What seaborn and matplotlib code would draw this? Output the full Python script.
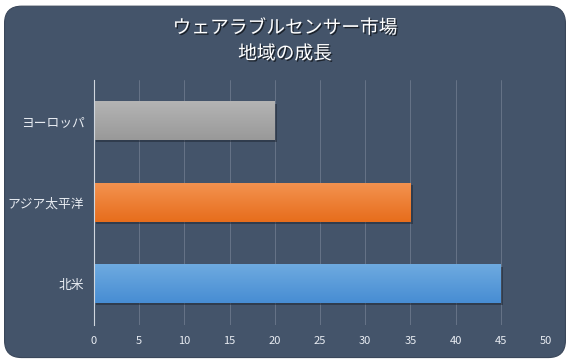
import numpy as np
import pandas as pd
import matplotlib
matplotlib.use('Agg')
import matplotlib.pyplot as plt
import matplotlib.patheffects as pe
from matplotlib.patches import FancyBboxPatch
from matplotlib.colors import LinearSegmentedColormap
import seaborn as sns

regions = ['ヨーロッパ', 'アジア太平洋', '北米']
growth = [20, 35, 45]
top_colors = ['#b4b4b4', '#f3924f', '#6eaae0']
bottom_colors = ['#999999', '#e76d1c', '#478dd3']
xticks = [0, 5, 10, 15, 20, 25, 30, 35, 40, 45, 50]

sns.set_style('white')
plt.rcParams['font.family'] = ['Noto Sans CJK JP', 'DejaVu Sans']

bg = '#44546a'
fig = plt.figure(figsize=(5.7, 3.63), dpi=100)
fig.patch.set_facecolor('white')
panel = FancyBboxPatch((0.008, 0.015), 0.984, 0.968, boxstyle='round,pad=0,rounding_size=0.03',
                       transform=fig.transFigure, facecolor=bg, edgecolor='#3a475a', lw=0.8,
                       mutation_aspect=570 / 363, zorder=-10)
fig.patches.append(panel)

ax = fig.add_axes([0.165, 0.105, 0.793, 0.675])
ax.set_facecolor(bg)

df = pd.DataFrame({'region': regions, 'growth': growth})
sns.barplot(data=df, x='growth', y='region', ax=ax, width=0.47, color='#888888',
            saturation=1, linewidth=0)

ax.set_xticks(xticks)
ax.set_xticklabels([str(t) for t in xticks], color='#e8ecf2', fontsize=8)
ax.tick_params(axis='y', colors='#e8ecf2', labelsize=9.2, length=0, pad=7)
ax.tick_params(axis='x', length=0, pad=8)
ax.set_xlabel('')
ax.set_ylabel('')
ax.grid(axis='x', color='#6c798c', lw=0.6)
ax.set_axisbelow(True)
for s in ['top', 'right', 'bottom']:
    ax.spines[s].set_visible(False)
ax.spines['left'].set_color('#d0d6de')
ax.spines['left'].set_linewidth(0.8)

# gradient fill over each bar, with a soft drop shadow
for patch, c1, c2 in zip(ax.patches, top_colors, bottom_colors):
    patch.set_facecolor(c2)
    patch.set_edgecolor('none')
    patch.set_path_effects([pe.SimplePatchShadow(offset=(1.5, -1.5), shadow_rgbFace='#1e2632', alpha=0.5),
                            pe.Normal()])
    x0, y0 = patch.get_x(), patch.get_y()
    w, h = patch.get_width(), patch.get_height()
    cmap = LinearSegmentedColormap.from_list('g', [c1, c2])
    grad = np.linspace(0, 1, 100).reshape(-1, 1)
    ax.imshow(grad, cmap=cmap, aspect='auto', extent=(x0, x0 + w, y0 + h, y0),
              origin='upper', zorder=patch.get_zorder() + 0.1, interpolation='bilinear')
ax.set_xlim(0, 50)
ax.set_ylim(2.5, -0.5)

fig.text(0.5, 0.888, 'ウェアラブルセンサー市場\n地域の成長', ha='center', va='center',
         color='white', fontsize=13.5, linespacing=1.3,
         path_effects=[pe.SimplePatchShadow(offset=(1, -1), shadow_rgbFace='black', alpha=0.6), pe.Normal()])

fig.savefig('out.png', dpi=100, facecolor='white')
